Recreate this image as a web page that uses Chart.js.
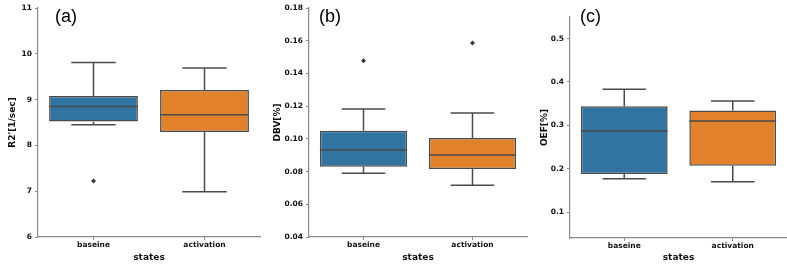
<!DOCTYPE html>
<html>
<head>
<meta charset="utf-8">
<script src="https://cdn.jsdelivr.net/npm/chart.js@4.4.1/dist/chart.umd.min.js"></script>
<style>
  body { margin: 0; background: #fff; }
  #wrap { position: relative; width: 787px; height: 270px; }
  canvas { position: absolute; left: 0; top: 0; }
  .tag { position: absolute; font: 18px "Liberation Sans", Arial, sans-serif; color: #000; }
</style>
</head>
<body>
<div id="wrap">
  <canvas id="chart_a" width="787" height="270"></canvas>
  <canvas id="chart_b" width="787" height="270"></canvas>
  <canvas id="chart_c" width="787" height="270"></canvas>
  <div class="tag" style="left:55px;top:6px">(a)</div>
  <div class="tag" style="left:319px;top:6px">(b)</div>
  <div class="tag" style="left:580px;top:6px">(c)</div>
</div>
<script>
// categories
const states = ['baseine', 'activation'];

// R2' box stats (baseline, activation)
const r2Low = [8.45, 6.99];
const r2Q1 = [8.52, 8.29];
const r2Median = [8.85, 8.67];
const r2Q3 = [9.08, 9.21];
const r2High = [9.81, 9.69];
const r2Outliers = [[7.22], []];
const r2Ticks = [6, 7, 8, 9, 10, 11];

// DBV box stats
const dbvLow = [0.0789, 0.0716];
const dbvQ1 = [0.083, 0.0816];
const dbvMedian = [0.0932, 0.0901];
const dbvQ3 = [0.105, 0.1005];
const dbvHigh = [0.1183, 0.1158];
const dbvOutliers = [[0.1478], [0.1586]];
const dbvTicks = [0.04, 0.06, 0.08, 0.10, 0.12, 0.14, 0.16, 0.18];

// OEF box stats
const oefLow = [0.177, 0.170];
const oefQ1 = [0.1875, 0.2067];
const oefMedian = [0.287, 0.310];
const oefQ3 = [0.344, 0.334];
const oefHigh = [0.383, 0.356];
const oefOutliers = [[], []];
const oefTicks = [0.1, 0.2, 0.3, 0.4, 0.5];

const boxColors = ['#3274a1', '#e1812c'];
const lineColor = '#4a4a4a';
const spineColor = '#8a8a8a';
const font = 'DejaVu Sans';

// whiskers + medians drawn from the scales
function boxPlugin(st) {
  return {
    id: 'boxParts',
    afterDatasetsDraw(chart) {
      const { ctx } = chart;
      const y = chart.scales.y;
      const meta = chart.getDatasetMeta(0);
      ctx.save();
      ctx.strokeStyle = lineColor;
      ctx.lineWidth = 1.5;
      const line = (x1, y1, x2, y2) => {
        ctx.beginPath(); ctx.moveTo(x1, y1); ctx.lineTo(x2, y2); ctx.stroke();
      };
      meta.data.forEach((bar, i) => {
        const cx = bar.x;
        const half = bar.width / 2;
        const cap = half / 2;
        const pq1 = y.getPixelForValue(st.q1[i]);
        const pq3 = y.getPixelForValue(st.q3[i]);
        const plo = y.getPixelForValue(st.low[i]);
        const phi = y.getPixelForValue(st.high[i]);
        const pmed = y.getPixelForValue(st.median[i]);
        line(cx, pq3, cx, phi);
        line(cx, pq1, cx, plo);
        line(cx - cap, phi, cx + cap, phi);
        line(cx - cap, plo, cx + cap, plo);
        line(cx - half, pmed, cx + half, pmed);
      });
      ctx.restore();
    }
  };
}

function makeBox(id, st, ticks, yMin, yMax, yTitle, area) {
  const outlierPts = [];
  st.outliers.forEach((list, i) => list.forEach(v => outlierPts.push({ x: states[i], y: v })));
  return new Chart(document.getElementById(id), {
    type: 'bar',
    data: {
      labels: states,
      datasets: [
        {
          data: states.map((s, i) => [st.q1[i], st.q3[i]]),
          backgroundColor: boxColors,
          borderColor: lineColor,
          borderWidth: 1.5,
          borderSkipped: false,
          barPercentage: 0.8,
          categoryPercentage: 1,
        },
        {
          type: 'scatter',
          data: outlierPts,
          pointStyle: 'rectRot',
          pointRadius: 2.5,
          backgroundColor: '#3a3a3a',
          borderColor: '#3a3a3a',
          borderWidth: 0,
        },
      ],
    },
    options: {
      responsive: false,
      animation: false,
      events: [],
      layout: { padding: { left: area.left, right: area.right, top: area.top, bottom: 0 } },
      plugins: { legend: { display: false }, tooltip: { enabled: false } },
      scales: {
        x: {
          type: 'category',
          offset: true,
          grid: { display: true, offset: false, drawOnChartArea: false, drawTicks: true, tickLength: 3, color: spineColor },
          border: { display: true, color: spineColor, width: 1.2 },
          ticks: { color: '#111', padding: 1, font: { family: font, size: 7.5, weight: 'bold' } },
          title: { display: true, text: 'states', color: '#111', padding: { top: 0, bottom: 7 }, font: { family: font, size: 9, weight: 'bold' } },
          afterFit: (s) => { s.height = area.xHeight; },
        },
        y: {
          min: yMin,
          max: yMax,
          afterBuildTicks: (s) => { s.ticks = ticks.map(v => ({ value: v })); },
          grid: { display: true, drawOnChartArea: false, drawTicks: true, tickLength: 3, color: spineColor },
          border: { display: true, color: spineColor, width: 1.2 },
          ticks: {
            color: '#111', padding: 3,
            font: { family: font, size: 7.5, weight: 'bold' },
            callback: (v) => area.fmt(v),
          },
          title: { display: true, text: yTitle, color: '#111', padding: { top: area.titlePad, bottom: 0 }, font: { family: font, size: 9, weight: 'bold' } },
          afterFit: (s) => { s.width = area.yWidth; },
        },
      },
    },
    plugins: [boxPlugin(st)],
  });
}

makeBox('chart_a',
  { low: r2Low, q1: r2Q1, median: r2Median, q3: r2Q3, high: r2High, outliers: r2Outliers },
  r2Ticks, 6, 11, "R2'[1/sec]",
  { left: 0, right: 527, top: 8, xHeight: 33, yWidth: 38, titlePad: 7, fmt: v => String(v) });

makeBox('chart_b',
  { low: dbvLow, q1: dbvQ1, median: dbvMedian, q3: dbvQ3, high: dbvHigh, outliers: dbvOutliers },
  dbvTicks, 0.04, 0.18, 'DBV[%]',
  { left: 262, right: 260, top: 8, xHeight: 33, yWidth: 47, titlePad: 10, fmt: v => v.toFixed(2) });

makeBox('chart_c',
  { low: oefLow, q1: oefQ1, median: oefMedian, q3: oefQ3, high: oefHigh, outliers: oefOutliers },
  oefTicks, 0.04, 0.55, 'OEF[%]',
  { left: 527, right: 0, top: 17, xHeight: 32, yWidth: 43, titlePad: 12, fmt: v => v.toFixed(1) });
</script>
</body>
</html>
